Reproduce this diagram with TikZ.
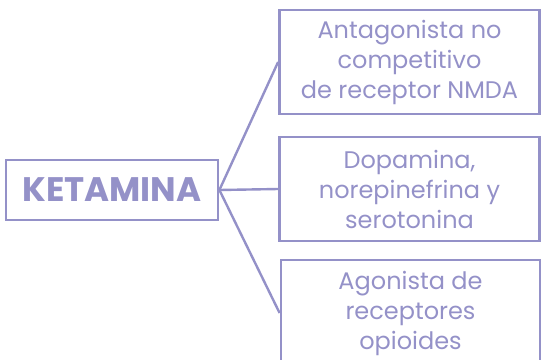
\documentclass[tikz,border=0pt]{standalone}
\usepackage{fontspec}
\setmainfont{Poppins}
\definecolor{lav}{RGB}{148,145,200}
\begin{document}
\begin{tikzpicture}[x=1pt,y=-1pt,
  box/.style={draw=lav, line width=2.8pt, inner sep=0pt, align=center, text=lav,
    minimum width=260pt, minimum height=104pt, font=\fontsize{24}{30}\selectfont},
  conn/.style={draw=lav, line width=2.4pt}]
\useasboundingbox (0,0) rectangle (541,359);
\begin{scope}
\clip (0,0) rectangle (541,359);
\node[draw=lav, line width=2.8pt, text=lav, minimum width=212pt, minimum height=60pt, inner sep=0pt,
  font=\fontsize{34}{40}\selectfont\bfseries] (k) at (112,190) {KETAMINA};
\node[box] (b1) at (409.5,62) {Antagonista no\\competitivo\\de receptor NMDA};
\node[box] (b2) at (409.5,189) {Dopamina,\\norepinefrina y\\serotonina};
\node[box, minimum width=259pt, minimum height=106pt] (b3) at (410.5,313) {Agonista de\\receptores\\opioides};
\draw[conn] (k.east) -- (b1.west);
\draw[conn] (k.east) -- (b2.west);
\draw[conn] (k.east) -- (b3.west);
\end{scope}
\end{tikzpicture}
\end{document}
